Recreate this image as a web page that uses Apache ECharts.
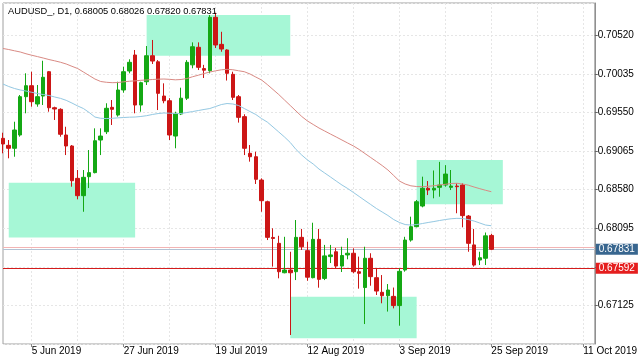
<!DOCTYPE html>
<html><head><meta charset="utf-8">
<script src="https://cdn.jsdelivr.net/npm/echarts@6/dist/echarts.min.js"></script>
<style>html,body{margin:0;padding:0;background:#fff}#c{width:640px;height:360px}</style>
</head><body><div id="c"></div>
<script>
const categories = [
'29 May 2019','30 May 2019','31 May 2019',
'3 Jun 2019','4 Jun 2019','5 Jun 2019','6 Jun 2019','7 Jun 2019','10 Jun 2019','11 Jun 2019','12 Jun 2019','13 Jun 2019','14 Jun 2019',
'17 Jun 2019','18 Jun 2019','19 Jun 2019','20 Jun 2019','21 Jun 2019','24 Jun 2019','25 Jun 2019','26 Jun 2019','27 Jun 2019','28 Jun 2019',
'1 Jul 2019','2 Jul 2019','3 Jul 2019','4 Jul 2019','5 Jul 2019','8 Jul 2019','9 Jul 2019','10 Jul 2019','11 Jul 2019','12 Jul 2019',
'15 Jul 2019','16 Jul 2019','17 Jul 2019','18 Jul 2019','19 Jul 2019','22 Jul 2019','23 Jul 2019','24 Jul 2019','25 Jul 2019','26 Jul 2019',
'29 Jul 2019','30 Jul 2019','31 Jul 2019','1 Aug 2019','2 Aug 2019','5 Aug 2019','6 Aug 2019','7 Aug 2019','8 Aug 2019','9 Aug 2019',
'12 Aug 2019','13 Aug 2019','14 Aug 2019','15 Aug 2019','16 Aug 2019','19 Aug 2019','20 Aug 2019','21 Aug 2019','22 Aug 2019','23 Aug 2019',
'26 Aug 2019','27 Aug 2019','28 Aug 2019','29 Aug 2019','30 Aug 2019','2 Sep 2019','3 Sep 2019','4 Sep 2019','5 Sep 2019','6 Sep 2019',
'9 Sep 2019','10 Sep 2019','11 Sep 2019','12 Sep 2019','13 Sep 2019','16 Sep 2019','17 Sep 2019','18 Sep 2019','19 Sep 2019','20 Sep 2019',
'23 Sep 2019','24 Sep 2019','25 Sep 2019',
'26 Sep 2019','27 Sep 2019','28 Sep 2019','29 Sep 2019','30 Sep 2019','1 Oct 2019','2 Oct 2019','3 Oct 2019','4 Oct 2019','5 Oct 2019',
'6 Oct 2019','7 Oct 2019','8 Oct 2019','9 Oct 2019','10 Oct 2019','11 Oct 2019','12 Oct 2019','13 Oct 2019'
];
const opens = [0.69226,0.69138,0.69101,0.69268,0.6975,0.69888,0.69658,0.69758,0.70064,0.69611,
0.69591,0.69268,0.6913,0.68723,0.68505,0.68744,0.68795,0.69205,0.69309,0.69616,
0.69519,0.69834,0.70073,0.70274,0.69645,0.69938,0.70265,0.70189,0.69758,0.69699,
0.69255,0.69532,0.69731,0.7015,0.70371,0.70103,0.70077,0.70748,0.70408,0.70337,
0.70031,0.6975,0.69499,0.69038,0.68995,0.68702,0.68429,0.6798,0.67906,0.67536,
0.6757,0.67549,0.67981,0.67814,0.67474,0.67956,0.67465,0.67739,0.678,0.6762,
0.6776,0.67781,0.67549,0.6735,0.67718,0.67474,0.6729,0.67247,0.67239,0.67123,
0.6757,0.67947,0.68115,0.68375,0.68598,0.68576,0.6861,0.68639,0.6861,0.68626,
0.68639,0.68249,0.67886,0.67696,0.67718,0.68005];
const closes = [0.69155,0.69101,0.69331,0.6975,0.69888,0.69687,0.6975,0.69994,0.69611,0.69595,
0.69277,0.6913,0.68693,0.68505,0.68736,0.68795,0.69196,0.69255,0.69604,0.69591,
0.69834,0.70064,0.70182,0.69645,0.69926,0.70265,0.70198,0.69792,0.69699,0.69268,
0.69541,0.69731,0.70182,0.70378,0.70119,0.70083,0.70748,0.704,0.70349,0.70044,
0.69742,0.6949,0.69101,0.68995,0.68711,0.68442,0.67981,0.67967,0.67549,0.6757,
0.67536,0.67981,0.67863,0.6748,0.67956,0.67453,0.67748,0.6776,0.6762,0.67753,
0.67781,0.67549,0.67529,0.67718,0.67487,0.67306,0.67247,0.67319,0.67123,0.67554,
0.67947,0.68115,0.68429,0.68598,0.68576,0.68598,0.68639,0.68777,0.68626,0.68618,
0.68254,0.67906,0.67633,0.67725,0.68,0.67831];
const highs = [0.69297,0.69205,0.69435,0.69771,0.70044,0.70064,0.69897,0.70202,0.70073,0.69624,
0.69604,0.69372,0.69142,0.68828,0.68828,0.69079,0.69352,0.69352,0.69667,0.69708,
0.69938,0.70127,0.7022,0.70337,0.69938,0.70387,0.70463,0.7021,0.69918,0.69731,
0.69561,0.69863,0.7021,0.70433,0.70433,0.7015,0.70777,0.70806,0.70566,0.70346,
0.70064,0.69771,0.69529,0.69142,0.69058,0.68723,0.68442,0.68095,0.68001,0.67988,
0.678,0.68199,0.68087,0.67927,0.68165,0.68087,0.67886,0.67886,0.67847,0.67863,
0.6797,0.67843,0.67739,0.67863,0.67781,0.67591,0.67507,0.67394,0.6735,0.67591,
0.67988,0.68241,0.68451,0.68744,0.68689,0.68822,0.6893,0.68889,0.68828,0.6866,
0.6866,0.68262,0.68087,0.678,0.68042,0.68026];
const lows = [0.69038,0.68975,0.68995,0.69247,0.69541,0.69624,0.69624,0.69645,0.69561,0.69457,
0.69247,0.69016,0.68618,0.68459,0.68303,0.68601,0.68786,0.69016,0.6928,0.69394,
0.69499,0.698,0.70044,0.69541,0.69561,0.69897,0.70161,0.69582,0.69667,0.69205,
0.69101,0.69519,0.69708,0.70107,0.70085,0.69985,0.70044,0.70362,0.70315,0.69953,
0.69708,0.69424,0.69016,0.68933,0.68652,0.68303,0.67947,0.67613,0.67466,0.67529,
0.66753,0.67444,0.67822,0.67435,0.67466,0.67348,0.67444,0.67658,0.67592,0.67545,
0.67705,0.67529,0.67336,0.66891,0.67373,0.67256,0.67152,0.67048,0.67088,0.6687,
0.67549,0.67927,0.68107,0.68359,0.68513,0.68472,0.68492,0.68618,0.68576,0.68284,
0.68107,0.678,0.67613,0.67633,0.67633,0.6782];
const maSlow = [0.70356,0.70343,0.70327,0.70312,0.7029,0.70271,0.70254,0.70236,0.70217,0.70201,
0.70183,0.70161,0.70132,0.70104,0.7006,0.70016,0.69972,0.69941,0.69931,0.69926,
0.69928,0.69937,0.69944,0.69949,0.69956,0.6996,0.69966,0.6997,0.69972,0.69968,
0.69962,0.69966,0.69978,0.70001,0.7002,0.70041,0.7006,0.70075,0.70088,0.70094,
0.70089,0.70076,0.70064,0.70035,0.69997,0.6996,0.69903,0.6984,0.69777,0.69708,
0.69639,0.6957,0.69501,0.69444,0.694,0.69356,0.69318,0.6928,0.69243,0.69205,
0.69167,0.6913,0.69086,0.69035,0.68985,0.68935,0.68884,0.68828,0.68759,0.68689,
0.68652,0.68629,0.6862,0.68618,0.68623,0.6863,0.68639,0.68648,0.68658,0.68661,
0.68652,0.68637,0.68614,0.68593,0.68573,0.68555];
const maFast = [0.69909,0.69878,0.69853,0.69834,0.69821,0.69805,0.6979,0.69777,0.69765,0.69746,
0.69729,0.69704,0.6967,0.69633,0.69601,0.69551,0.69494,0.69478,0.69475,0.69478,
0.69484,0.69488,0.69492,0.69494,0.69501,0.69511,0.69526,0.69538,0.69545,0.69542,
0.69538,0.69538,0.69551,0.69563,0.69576,0.69589,0.69601,0.69626,0.69651,0.69664,
0.69658,0.69639,0.69601,0.69563,0.69526,0.69475,0.69431,0.69369,0.69306,0.69243,
0.69174,0.69086,0.69016,0.68954,0.68903,0.6884,0.6879,0.6874,0.68689,0.68639,
0.68595,0.68545,0.68495,0.68444,0.68394,0.68344,0.683,0.68256,0.68205,0.68168,
0.68142,0.68136,0.68142,0.68155,0.68168,0.6818,0.68193,0.68205,0.68215,0.6822,
0.68218,0.68205,0.68186,0.68161,0.68136,0.68127];
// zones: [start category, end category, low price, high price]
const zones = [
  ['30 May 2019','1 Jul 2019',0.6798,0.68668],
  ['3 Jul 2019','7 Aug 2019',0.70265,0.70777],
  ['6 Sep 2019','27 Sep 2019',0.68396,0.68954],
  ['7 Aug 2019','6 Sep 2019',0.66711,0.67235]
];
const yMin = 0.6664, yStep = 0.00485, yMax = 0.70928;
const askPrice = 0.67856, bidPrice = 0.67831, levelPrice = 0.67592;
const titleText = 'AUDUSD_, D1, 0.68005 0.68026 0.67820 0.67831';

const FONT = 'Liberation Sans';
const candleData = opens.map((o, i) => [o, closes[i], lows[i], highs[i]]);
const chart = echarts.init(document.getElementById('c'));
const labelEvery = (i) => (i - 5) % 16 === 0;
const gridEvery = (i) => (i - 5) % 8 === 0;
const priceLabel = (txt, bg) => ({ show: true, position: 'end', distance: 1, formatter: txt, color: '#fff',
  backgroundColor: bg, padding: [1, 3, 0, 3], fontSize: 10, fontFamily: FONT });
chart.setOption({
  animation: false,
  backgroundColor: '#fff',
  title: { text: titleText, left: 3, top: 2, textStyle: { fontSize: 9.3, fontWeight: 'normal', color: '#000', fontFamily: FONT } },
  grid: { left: 3, top: 3, right: 43, bottom: 16, show: true, borderColor: '#a0a0a0', borderWidth: 1, backgroundColor: '#fff' },
  xAxis: {
    type: 'category', data: categories, boundaryGap: false,
    axisLine: { show: false },
    axisTick: { show: true, interval: labelEvery, length: 3, lineStyle: { color: '#888' } },
    axisLabel: { interval: labelEvery, align: 'left', margin: 2, fontSize: 10, color: '#000', fontFamily: FONT },
    splitLine: { show: true, interval: gridEvery, lineStyle: { color: '#e6e6e6', type: [2, 2] } }
  },
  yAxis: {
    type: 'value', position: 'right', min: yMin, max: yMax, interval: yStep, scale: true,
    axisLine: { show: true, lineStyle: { color: '#909090' } },
    axisTick: { show: true, length: 3, lineStyle: { color: '#666' } },
    axisLabel: { showMinLabel: false, showMaxLabel: false, margin: 3, fontSize: 10, color: '#000', fontFamily: FONT,
      padding: [3, 0, 0, 0],
      formatter: v => Math.abs(v - 0.6761) < 1e-7 ? '' : v.toFixed(5) },
    splitLine: { show: true, lineStyle: { color: '#e6e6e6', type: [2, 2] } }
  },
  series: [
    {
      type: 'line', data: [], z: 1, symbol: 'none',
      markLine: {
        silent: true, symbol: 'none', z: 1, animation: false, precision: 5,
        data: [
          { yAxis: askPrice, lineStyle: { color: '#f2b4b4', width: 1, type: 'solid' }, label: { show: false } },
          { yAxis: bidPrice, lineStyle: { color: '#b2c2d4', width: 1, type: 'solid' }, label: priceLabel(bidPrice.toFixed(5), '#38668f') },
          { yAxis: levelPrice, lineStyle: { color: '#d41c1c', width: 1, type: 'solid' }, label: priceLabel(levelPrice.toFixed(5), '#e51e1e') }
        ]
      }
    },
    {
      type: 'candlestick', data: candleData, barWidth: 4, z: 2,
      itemStyle: { color: '#14a814', color0: '#cc1616', borderColor: '#14a814', borderColor0: '#cc1616', borderWidth: 1 },
      markArea: {
        silent: true, z: 1,
        itemStyle: { color: '#a6f7d6' },
        data: zones.map(z => [{ xAxis: z[0], yAxis: z[3] }, { xAxis: z[1], yAxis: z[2] }])
      }
    },
    { type: 'line', data: maSlow, showSymbol: false, symbol: 'none', z: 3, lineStyle: { color: '#d98a84', width: 1 } },
    { type: 'line', data: maFast, showSymbol: false, symbol: 'none', z: 3, lineStyle: { color: '#94c8e2', width: 1 } }
  ]
});
</script></body></html>
